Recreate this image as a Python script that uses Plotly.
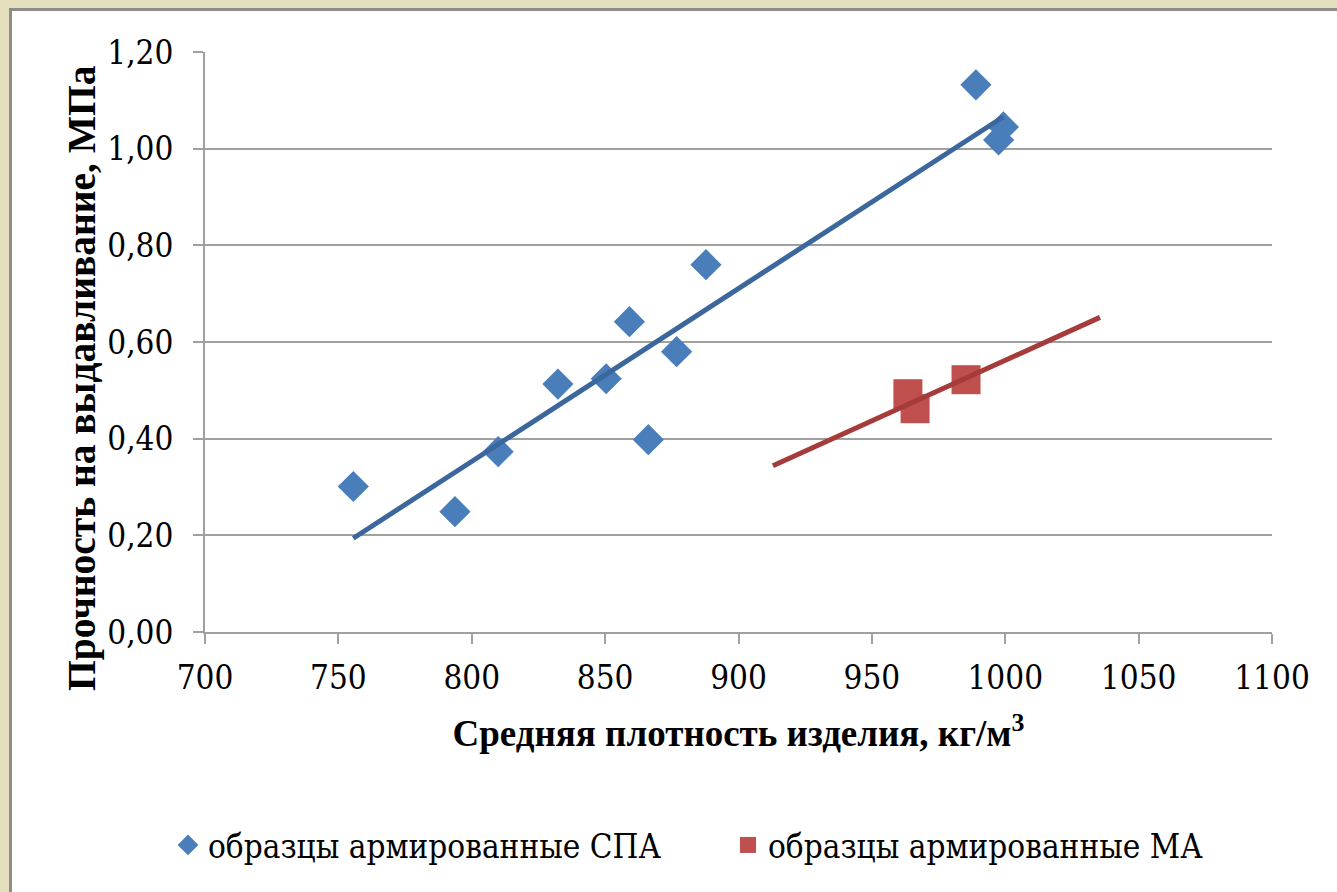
import plotly.graph_objects as go

# ---- data ----
spa_x = [755.6, 793.7, 809.9, 832.3, 850.4, 859.1, 866.2, 876.8, 887.8, 989.0, 997.5, 999.3]
spa_y = [0.301, 0.249, 0.373, 0.513, 0.524, 0.642, 0.398, 0.580, 0.760, 1.132, 1.018, 1.045]
ma_x = [963.5, 966.2, 985.3]
ma_y = [0.493, 0.462, 0.522]
trend_spa_x = [755.6, 999.3]
trend_spa_y = [0.194, 1.066]
trend_ma_x = [912.9, 1035.5]
trend_ma_y = [0.344, 0.651]
x_ticks = [700, 750, 800, 850, 900, 950, 1000, 1050, 1100]
y_ticks = [0.0, 0.2, 0.4, 0.6, 0.8, 1.0, 1.2]
name_spa = "образцы армированные СПА"
name_ma = "образцы армированные МА"
x_title = "Средняя плотность изделия, кг/м<sup>3</sup>"
y_title = "Прочность на выдавливание, МПа"

W, H = 1337, 892
L, R, T, B = 205, 65, 52, 260
BOLD = "Liberation Serif"
REG = "DejaVu Serif Condensed"
GRID = "#a0a0a0"

fig = go.Figure()
fig.add_trace(go.Scatter(x=spa_x, y=spa_y, mode="markers", name=name_spa,
                         marker=dict(symbol="diamond", size=24, color="#4a7ebb")))
fig.add_trace(go.Scatter(x=ma_x, y=ma_y, mode="markers", name=name_ma,
                         marker=dict(symbol="square", size=29, color="#c0504d")))
fig.add_trace(go.Scatter(x=trend_spa_x, y=trend_spa_y, mode="lines", showlegend=False,
                         line=dict(color="#3b679c", width=5)))
fig.add_trace(go.Scatter(x=trend_ma_x, y=trend_ma_y, mode="lines", showlegend=False,
                         line=dict(color="#a53b3a", width=5)))

pw = W - L - R
ph = H - T - B
def px(xp):
    return (xp - L) / pw
def py(yp):
    return (H - B - yp) / ph

beige = "#e4dfbd"
border = "#8c8c8c"
shapes = [
    dict(type="rect", xref="paper", yref="paper", x0=px(0), x1=px(W), y0=py(8), y1=py(0),
         fillcolor=beige, line_width=0, layer="above"),
    dict(type="rect", xref="paper", yref="paper", x0=px(0), x1=px(9), y0=py(H), y1=py(0),
         fillcolor=beige, line_width=0, layer="above"),
    dict(type="rect", xref="paper", yref="paper", x0=px(9), x1=px(W), y0=py(11), y1=py(8),
         fillcolor=border, line_width=0, layer="above"),
    dict(type="rect", xref="paper", yref="paper", x0=px(9), x1=px(12), y0=py(H), y1=py(8),
         fillcolor=border, line_width=0, layer="above"),
]

annotations = [
    dict(text=y_title, xref="paper", yref="paper", x=px(82), y=py(378),
         xanchor="center", yanchor="middle", textangle=-90, showarrow=False,
         font=dict(family=BOLD, size=39.5, weight="bold", color="black")),
]

fig.update_layout(
    width=W, height=H,
    margin=dict(l=L, r=R, t=T, b=B),
    paper_bgcolor="white", plot_bgcolor="white",
    separators=", ",
    font=dict(family=REG, size=33, color="black"),
    shapes=shapes,
    annotations=annotations,
    showlegend=True,
    legend=dict(orientation="h", x=px(168), xanchor="left", y=py(845), yanchor="middle",
                font=dict(family=REG, size=33, color="black"),
                entrywidth=515, entrywidthmode="pixels", itemsizing="trace",
                bgcolor="rgba(0,0,0,0)"),
    xaxis=dict(range=[700, 1100], tickvals=x_ticks, tickformat="d",
               showgrid=False, zeroline=False, showline=True, linecolor=GRID, linewidth=2,
               ticks="outside", ticklen=10, tickwidth=2, tickcolor=GRID,
               ticklabelstandoff=5,
               tickfont=dict(family=REG, size=33),
               title=dict(text=x_title, standoff=25,
                          font=dict(family=BOLD, size=37, weight="bold"))),
    yaxis=dict(range=[0, 1.2], tickvals=y_ticks, tickformat=".2f",
               showgrid=True, gridcolor=GRID, gridwidth=2,
               zeroline=False, showline=True, linecolor=GRID, linewidth=2,
               ticks="outside", ticklen=10, tickwidth=2, tickcolor=GRID,
               ticklabelstandoff=13,
               tickfont=dict(family=REG, size=33)),
)

fig.write_html("out.html", post_script="document.body.style.margin='0';",
               config={"displayModeBar": False})
